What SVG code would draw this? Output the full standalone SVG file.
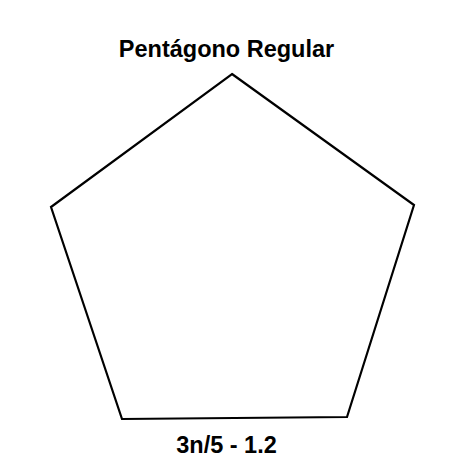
<svg xmlns="http://www.w3.org/2000/svg" width="450" height="474" viewBox="0 0 450 474">
<style>
.t{font-family:"Liberation Sans",Arial,sans-serif;font-weight:bold;font-size:23.5px;fill:#000;text-anchor:middle}
.p{fill:none;stroke:#000;stroke-width:2.2;stroke-linejoin:miter}
</style>
<rect width="450" height="474" fill="#fff"/>
<g id="title"><text class="t" x="226.5" y="57">Pentágono Regular</text></g>
<g id="pentagon"><polygon class="p" points="232,74 414,205 347,417 122,419 51,207"/></g>
<g id="label"><text class="t" x="226.5" y="453">3n/5 - 1.2</text></g>
</svg>
